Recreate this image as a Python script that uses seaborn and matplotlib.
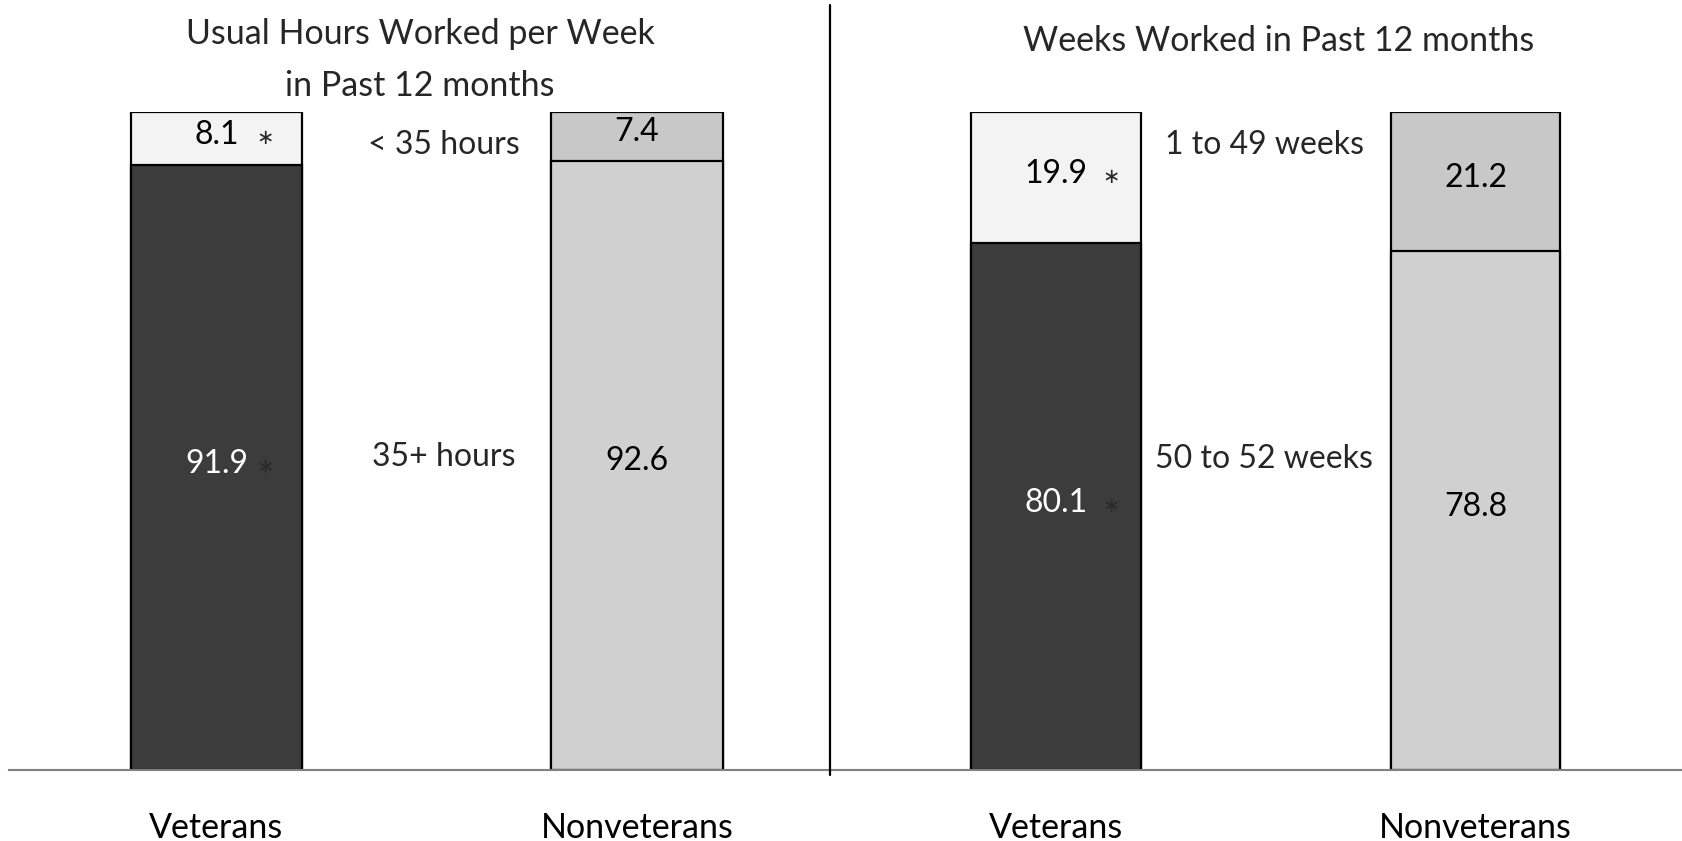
import matplotlib
matplotlib.use("Agg")
import matplotlib.pyplot as plt
from matplotlib.lines import Line2D
import pandas as pd
import seaborn as sns

# Groups and shares (percent) for each panel
groups = ["Veterans", "Nonveterans"]
hours_full = [91.9, 92.6]     # 35+ hours
hours_part = [8.1, 7.4]       # < 35 hours
weeks_full = [80.1, 78.8]     # 50 to 52 weeks
weeks_part = [19.9, 21.2]     # 1 to 49 weeks
significant = [True, False]   # marked with an asterisk

hours_title = "Usual Hours Worked per Week\nin Past 12 months"
weeks_title = "Weeks Worked in Past 12 months"
hours_labels = ["< 35 hours", "35+ hours"]
weeks_labels = ["1 to 49 weeks", "50 to 52 weeks"]

sns.set_theme(style="white")
plt.rcParams["font.family"] = ["Lato", "DejaVu Sans"]

lower_colors = ["#3c3c3c", "#d0d0d0"]
upper_colors = ["#f3f3f3", "#c8c8c8"]
value_colors = ["white", "black"]

W, H = 1683, 841
fig = plt.figure(figsize=(W / 100, H / 100), dpi=100)
ax_l = fig.add_axes([9 / W, 71 / H, 821 / W, 658 / H])
ax_r = fig.add_axes([830 / W, 71 / H, 853 / W, 658 / H])


def panel(ax, lower, upper, width, xlim, seg_labels, label_x, label_y, star_dx):
    df = pd.DataFrame({"group": groups, "lower": lower, "upper": upper})
    df["total"] = df["lower"] + df["upper"]
    sns.barplot(data=df, x="group", y="total", hue="group",
                palette=upper_colors, dodge=False, width=width,
                saturation=1, edgecolor="black", linewidth=1.6,
                legend=False, ax=ax)
    sns.barplot(data=df, x="group", y="lower", hue="group",
                palette=lower_colors, dodge=False, width=width,
                saturation=1, edgecolor="black", linewidth=1.6,
                legend=False, ax=ax)
    ax.set_xlim(*xlim)
    ax.set_ylim(0, 100)
    ax.set_xlabel("")
    ax.set_ylabel("")
    ax.set_yticks([])
    for s in ["top", "left", "right"]:
        ax.spines[s].set_visible(False)
    ax.spines["bottom"].set_color("#808080")
    ax.spines["bottom"].set_linewidth(1.5)
    ax.tick_params(axis="x", length=0, pad=30, labelsize=24.5, labelcolor="black")

    for i, row in df.iterrows():
        segs = [(row["lower"] / 2, row["lower"], value_colors[i]),
                (row["lower"] + row["upper"] / 2, row["upper"], "black")]
        for yc, val, col in segs:
            ax.text(i, yc + 0.6, f"{val:.1f}", ha="center", va="center",
                    fontsize=23, color=col)
            if significant[i]:
                ax.annotate("\u2217", (i, yc + 0.1), xytext=(star_dx, 0),
                            textcoords="offset points", ha="center",
                            va="center", fontsize=15, color="#2a2a2a",
                            family=["DejaVu Sans"])

    ax.text(label_x, label_y[0], seg_labels[0], ha="center", va="center",
            fontsize=23)
    ax.text(label_x, label_y[1], seg_labels[1], ha="center", va="center",
            fontsize=23)


panel(ax_l, hours_full, hours_part, 0.407, (-0.4935, 1.459),
      hours_labels, 0.54, (95.0, 47.6), 35)
panel(ax_r, weeks_full, weeks_part, 0.403, (-0.5387, 1.4946),
      weeks_labels, 0.496, (95.0, 47.3), 40)

fig.text(420 / W, 1 - 60 / H, hours_title, ha="center", va="center",
         fontsize=24.5, linespacing=1.78)
fig.text(1279 / W, 1 - 41 / H, weeks_title, ha="center", va="center",
         fontsize=24.5)

# divider between the two panels
fig.add_artist(Line2D([830 / W, 830 / W], [1 - 5 / H, 1 - 775 / H],
                      color="black", linewidth=1.6,
                      transform=fig.transFigure))

fig.savefig("out.png", dpi=100, facecolor="white")
